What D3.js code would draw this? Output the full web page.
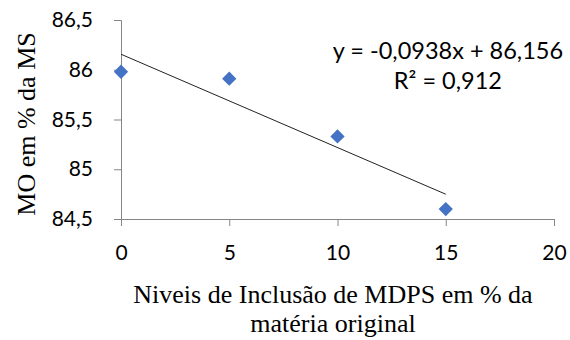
<!DOCTYPE html>
<html>
<head>
<meta charset="utf-8">
<script src="https://cdn.jsdelivr.net/npm/d3@7"></script>
<style>
  body { margin: 0; background: #fff; }
  svg text { fill: #000; }
</style>
</head>
<body>
<figure id="chart" style="margin:0"></figure>
<script>
// values
const levels = [0, 5, 10, 15];
const moValues = [85.98, 85.91, 85.33, 84.60];
const xTicks = [0, 5, 10, 15, 20];
const yTicks = [84.5, 85, 85.5, 86, 86.5];
const slope = -0.0938;
const intercept = 86.156;
const eqLabel = 'y = -0,0938x + 86,156';
const r2Label = 'R² = 0,912';

const width = 570;
const height = 340;
const margin = { top: 20, right: 16, bottom: 121, left: 121 };
const plotW = width - margin.left - margin.right;
const plotH = height - margin.top - margin.bottom;
const tickFont = 'Lato, "Open Sans", sans-serif';
const titleFont = '"Liberation Serif", "Times New Roman", serif';
const axisColor = '#868686';

const fmt = d => String(d).replace('.', ',');

const svg = d3.select('figure#chart')
  .append('svg')
  .attr('width', width)
  .attr('height', height);

const g = svg.append('g')
  .attr('transform', 'translate(' + margin.left + ',' + margin.top + ')');

const x = d3.scaleLinear().domain([0, 20]).range([0, plotW]);
const y = d3.scaleLinear().domain([84.5, 86.5]).range([plotH, 0]);

const xAxis = g.append('g')
  .attr('transform', 'translate(0,' + plotH + ')')
  .call(d3.axisBottom(x).tickValues(xTicks).tickFormat(fmt).tickSize(7).tickPadding(19));

const yAxis = g.append('g')
  .call(d3.axisLeft(y).tickValues(yTicks).tickFormat(fmt).tickSize(7).tickPadding(21));

[xAxis, yAxis].forEach(a => {
  a.select('.domain').attr('stroke', axisColor);
  a.selectAll('.tick line').attr('stroke', axisColor);
  a.selectAll('.tick text')
    .style('font-family', tickFont)
    .style('font-size', '21px')
    .attr('fill', '#000');
});

// trend line from the fitted equation
g.append('line')
  .attr('x1', x(levels[0]))
  .attr('y1', y(intercept + slope * levels[0]))
  .attr('x2', x(levels[levels.length - 1]))
  .attr('y2', y(intercept + slope * levels[levels.length - 1]))
  .attr('stroke', '#222')
  .attr('stroke-width', 1);

g.selectAll('path.pt')
  .data(levels)
  .enter()
  .append('path')
  .attr('class', 'pt')
  .attr('d', d3.symbol().type(d3.symbolDiamond2).size(130))
  .attr('transform', (d, i) => 'translate(' + x(d) + ',' + y(moValues[i]) + ')')
  .attr('fill', '#4472C4');

// equation labels
const eq = g.append('g').style('font-family', tickFont).style('font-size', '23.5px');
eq.append('text')
  .attr('x', x(15.1))
  .attr('y', 39)
  .attr('text-anchor', 'middle')
  .text(eqLabel);
eq.append('text')
  .attr('x', x(15.1))
  .attr('y', 69)
  .attr('text-anchor', 'middle')
  .text(r2Label);

// axis titles
svg.append('text')
  .attr('x', 333)
  .attr('y', 303)
  .attr('text-anchor', 'middle')
  .style('font-family', titleFont)
  .style('font-size', '26px')
  .text('Niveis de Inclusão de MDPS em % da');
svg.append('text')
  .attr('x', 333)
  .attr('y', 332)
  .attr('text-anchor', 'middle')
  .style('font-family', titleFont)
  .style('font-size', '26px')
  .text('matéria original');

svg.append('text')
  .attr('transform', 'translate(35,124) rotate(-90)')
  .attr('text-anchor', 'middle')
  .style('font-family', titleFont)
  .style('font-size', '26px')
  .text('MO em % da MS');
</script>
</body>
</html>
